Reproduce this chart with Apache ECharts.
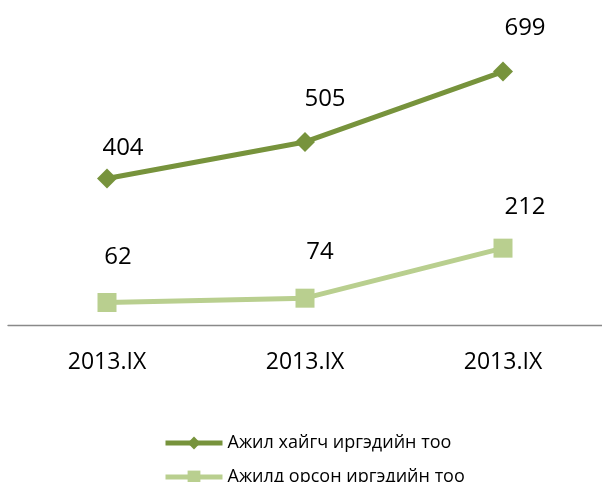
<!DOCTYPE html>
<html><head><meta charset="utf-8">
<script src="https://cdn.jsdelivr.net/npm/echarts@6/dist/echarts.min.js"></script>
<style>html,body{margin:0;padding:0;background:#fff}#c{width:602px;height:482px}</style>
</head><body><div id="c"></div>
<script>
const categories = ['2013.IX', '2013.IX', '2013.IX'];
const seriesNames = ['Ажил хайгч иргэдийн тоо', 'Ажилд орсон иргэдийн тоо'];
const seekers = [404, 505, 699];
const employed = [62, 74, 212];

// label placement (style, not data)
const labelShift = [
  [[16, -30], [20, -43], [22, -43]],
  [[11, -45], [15, -46], [22, -41]]
];
const colors = ['#77933C', '#B9CF8F'];
const FONT = '"Open Sans", sans-serif';
const legendTops = [429, 463];

function buildData(vals, si) {
  return vals.map((v, i) => ({ value: v, label: { offset: labelShift[si][i] } }));
}

const chart = echarts.init(document.getElementById('c'));
chart.setOption({
  animation: false,
  grid: { left: 8, right: -2, top: 35, bottom: 157 },
  legend: seriesNames.map((n, i) => ({
    orient: 'vertical', left: 158, top: legendTops[i],
    itemWidth: 57, itemHeight: 16,
    textStyle: { fontFamily: FONT, fontSize: 18, color: '#000' },
    lineStyle: { width: 5 },
    data: [n]
  })),
  xAxis: {
    type: 'category', data: categories, boundaryGap: true,
    axisLine: { lineStyle: { color: '#898989', width: 1.3 } },
    axisTick: { show: false },
    axisLabel: { margin: 26, fontFamily: FONT, fontSize: 23, color: '#000' }
  },
  yAxis: { type: 'value', min: 0, max: 800, show: false, splitLine: { show: false } },
  series: [
    {
      name: seriesNames[0], type: 'line', data: buildData(seekers, 0),
      symbol: 'diamond', symbolSize: 20, lineStyle: { width: 5, color: colors[0] },
      itemStyle: { color: colors[0] },
      label: { show: true, position: 'inside', fontFamily: FONT, fontSize: 24, color: '#000' }
    },
    {
      name: seriesNames[1], type: 'line', data: buildData(employed, 1),
      symbol: 'rect', symbolSize: 19, lineStyle: { width: 5, color: colors[1] },
      itemStyle: { color: colors[1] },
      label: { show: true, position: 'inside', fontFamily: FONT, fontSize: 24, color: '#000' }
    }
  ]
});
</script></body></html>
